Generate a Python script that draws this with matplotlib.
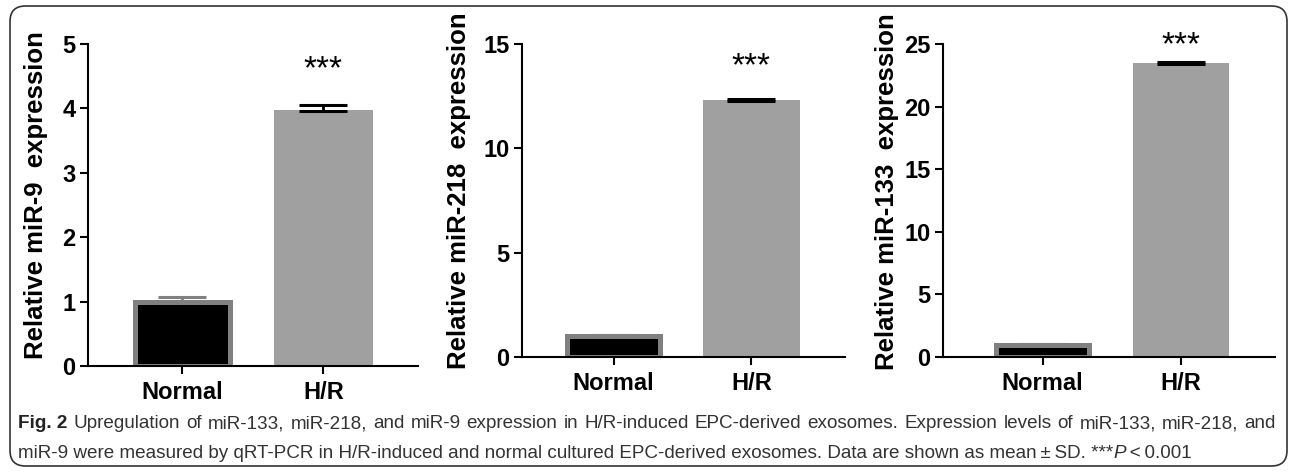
import matplotlib
matplotlib.use("Agg")
import matplotlib.pyplot as plt
from matplotlib.patches import FancyBboxPatch

plt.rcParams['font.family'] = ['Liberation Sans', 'DejaVu Sans']

# Data
groups = ['Normal', 'H/R']
mir9_mean = [1.0, 3.98]
mir9_sd = [0.07, 0.08]
mir218_mean = [1.03, 12.31]
mir218_sd = [0.03, 0.05]
mir133_mean = [1.0, 23.52]
mir133_sd = [0.04, 0.03]
ylabels = ['Relative miR-9  expression', 'Relative miR-218  expression',
           'Relative miR-133  expression']
yticks = [[0, 1, 2, 3, 4, 5], [0, 5, 10, 15], [0, 5, 10, 15, 20, 25]]
star_y = [4.6, 13.9, 24.9]

caption1 = ("Upregulation of miR-133, miR-218, and miR-9 expression in H/R-induced EPC-derived exosomes. "
            "Expression levels of miR-133, miR-218, and")
caption2 = ("miR-9 were measured by qRT-PCR in H/R-induced and normal cultured EPC-derived exosomes. "
            "Data are shown as mean\u2009\u00b1\u2009SD. ***")

W, H = 1292, 472
fig = plt.figure(figsize=(W / 100, H / 100), dpi=100)

boxes = [[0.0681, 0.2246, 0.2554, 0.682],
         [0.404, 0.2436, 0.250, 0.663],
         [0.7299, 0.2436, 0.257, 0.663]]
xlims = [(-0.67, 1.67), (-0.665, 1.68), (-0.72, 1.68)]
label_x = [-0.12, -0.158, -0.134]
means = [mir9_mean, mir218_mean, mir133_mean]
sds = [mir9_sd, mir218_sd, mir133_sd]
err_col_normal = ['#808080', 'black', 'black']

for i in range(3):
    ax = fig.add_axes(boxes[i])
    m, s = means[i], sds[i]
    ax.bar(0, m[0], width=0.67, color='black', edgecolor='#808080', linewidth=3.6, zorder=2)
    ax.bar(1, m[1], width=0.7, color='#a0a0a0', edgecolor='none', zorder=2)
    ax.errorbar(0, m[0], yerr=[[0], [s[0]]], color=err_col_normal[i], capsize=17,
                capthick=2.2, elinewidth=2, fmt='none', zorder=1)
    ax.errorbar(1, m[1], yerr=[[0.02 * yticks[i][-1] / 5], [s[1]]], color='black', capsize=17,
                capthick=2.2, elinewidth=2, fmt='none', zorder=3)
    ax.text(1, star_y[i], '***', ha='center', va='center', fontsize=24)
    ax.set_xlim(*xlims[i])
    ax.set_ylim(0, yticks[i][-1])
    ax.set_yticks(yticks[i])
    ax.set_xticks([0, 1])
    ax.set_xticklabels(groups, fontsize=17, fontweight='bold')
    ax.tick_params(axis='y', labelsize=17, width=1.5, length=6, pad=3)
    ax.tick_params(axis='x', width=1.5, length=6, pad=5)
    for lab in ax.get_yticklabels():
        lab.set_fontweight('bold')
    ax.set_ylabel(ylabels[i], fontsize=18.5, fontweight='bold')
    ax.yaxis.set_label_coords(label_x[i], 0.53)
    for sp in ['top', 'right']:
        ax.spines[sp].set_visible(False)
    for sp in ['left', 'bottom']:
        ax.spines[sp].set_linewidth(1.5)

# frame around the whole figure
frame = FancyBboxPatch((10 / W, 6 / H), 1277 / W, 460 / H,
                       boxstyle='round,pad=0,rounding_size=0.012',
                       transform=fig.transFigure, fill=False,
                       edgecolor='#333333', linewidth=1.2, mutation_aspect=W / H)
fig.patches.append(frame)

# caption, first line justified to the full width
cfont = ['Liberation Sans', 'DejaVu Sans']
csize = 13.6
renderer = fig.canvas.get_renderer()
words = ['Fig. 2'] + caption1.split(' ')
y1 = 1 - 424 / H
x_left, x_right = 18, 1276
arts = []
for k, w in enumerate(words):
    t = fig.text(0, y1, w, fontsize=csize, family=cfont, va='center',
                 fontweight='bold' if k == 0 else 'normal',
                 color='#222222' if k == 0 else '#333333')
    arts.append(t)
widths = [t.get_window_extent(renderer).width for t in arts]
gap = (x_right - x_left - sum(widths)) / (len(words) - 1)
x = x_left
for t, wd in zip(arts, widths):
    t.set_x(x / W)
    x += wd + gap

t2 = fig.text(18 / W, 1 - 453 / H, caption2, fontsize=csize, family=cfont,
              color='#333333', va='center')
t3 = fig.add_artist(plt.Annotation('P', xy=(1, 0.5), xycoords=t2, va='center', style='italic',
                                   fontsize=csize, family=cfont, color='#333333'))
fig.add_artist(plt.Annotation('\u2009<\u20090.001', xy=(1, 0.5), xycoords=t3, va='center',
                              fontsize=csize, family=cfont, color='#333333'))

fig.savefig('out.png', dpi=100)
